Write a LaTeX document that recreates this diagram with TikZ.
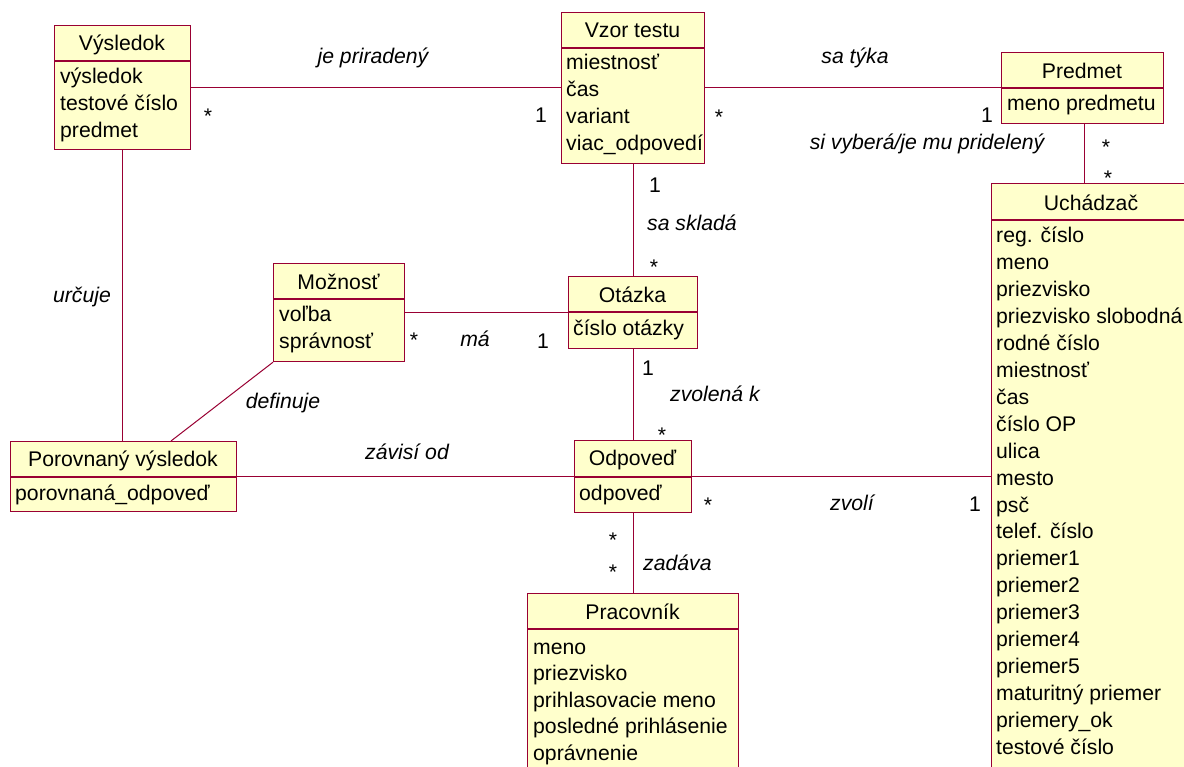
\documentclass[tikz,border=0pt]{standalone}
\usepackage{fontspec}
\setmainfont{Liberation Sans}
\definecolor{umlline}{RGB}{153,0,51}
\definecolor{umlfill}{RGB}{255,255,204}
\begin{document}
\begin{tikzpicture}[x=1pt,y=-1pt,
  cls/.style={draw=umlline, fill=umlfill, line width=1.2pt, inner sep=0pt, anchor=north west},
  sepline/.style={draw=umlline, line width=1.2pt},
  txt/.style={inner sep=0pt, font=\fontsize{21.2}{26}\selectfont},
  ttl/.style={txt, anchor=base},
  att/.style={txt, anchor=base west},
  role/.style={inner sep=0pt, anchor=base, font=\fontsize{21.2}{26}\selectfont\itshape},
  mult/.style={txt, anchor=base},
  assoc/.style={draw=umlline, line width=1pt}]
\useasboundingbox (0,0) rectangle (1184,767);
\fill[white] (0,0) rectangle (1184,767);
\clip (0,0) rectangle (1184,767);

% ---------- classes ----------
% Výsledok
\node[cls, minimum width=136pt, minimum height=124pt] (vysledok) at (54,25) {};
\draw[sepline] (54,61) -- (190,61);
\node[ttl] (vysledok-t) at (122,50.5) {Výsledok};
\foreach \t [count=\i from 0] in {výsledok, testové číslo, predmet}
  \node[att] (vysledok-a\i) at (60,84+26.6*\i) {\t};

% Vzor testu
\node[cls, minimum width=143pt, minimum height=151pt] (vzor) at (561,12) {};
\draw[sepline] (561,48) -- (704,48);
\node[ttl] (vzor-t) at (632.5,37.5) {Vzor testu};
\foreach \t [count=\i from 0] in {miestnosť, čas, variant, viac\_odpovedí}
  \node[att] (vzor-a\i) at (566,70+26.7*\i) {\t};

% Predmet
\node[cls, minimum width=162pt, minimum height=71pt] (predmet) at (1001,52) {};
\draw[sepline] (1001,88) -- (1163,88);
\node[ttl] (predmet-t) at (1082,78.5) {Predmet};
\node[att] (predmet-a0) at (1007,111) {meno predmetu};

% Uchádzač
\node[cls, minimum width=200pt, minimum height=620pt] (uchadzac) at (991,183) {};
\draw[sepline] (991,220) -- (1191,220);
\node[ttl] (uchadzac-t) at (1091,210.5) {Uchádzač};
\foreach \t [count=\i from 0] in {reg. číslo, meno, priezvisko, priezvisko slobodná,
    rodné číslo, miestnosť, čas, číslo OP, ulica, mesto, psč, telef. číslo,
    priemer1, priemer2, priemer3, priemer4, priemer5, maturitný priemer,
    priemery\_ok, testové číslo}
  \node[att] (uchadzac-a\i) at (996,243+26.9*\i) {\t};

% Možnosť
\node[cls, minimum width=131pt, minimum height=98pt] (moznost) at (273,263) {};
\draw[sepline] (273,299) -- (404,299);
\node[ttl] (moznost-t) at (338.5,289.5) {Možnosť};
\node[att] (moznost-a0) at (279,322) {voľba};
\node[att] (moznost-a1) at (279,349) {správnosť};

% Otázka
\node[cls, minimum width=129pt, minimum height=72pt] (otazka) at (568,276) {};
\draw[sepline] (568,312) -- (697,312);
\node[ttl] (otazka-t) at (632.5,302.5) {Otázka};
\node[att] (otazka-a0) at (573,336) {číslo otázky};

% Odpoveď
\node[cls, minimum width=117pt, minimum height=72pt] (odpoved) at (574,440) {};
\draw[sepline] (574,477) -- (691,477);
\node[ttl] (odpoved-t) at (632.5,465.5) {Odpoveď};
\node[att] (odpoved-a0) at (579,500) {odpoveď};

% Porovnaný výsledok
\node[cls, minimum width=226pt, minimum height=70pt] (porovnany) at (10,441) {};
\draw[sepline] (10,477) -- (236,477);
\node[ttl] (porovnany-t) at (123,466.5) {Porovnaný výsledok};
\node[att] (porovnany-a0) at (15,500) {porovnaná\_odpoveď};

% Pracovník
\node[cls, minimum width=211pt, minimum height=200pt] (pracovnik) at (527,593) {};
\draw[sepline] (527,629) -- (738,629);
\node[ttl] (pracovnik-t) at (632.5,619.5) {Pracovník};
\foreach \t [count=\i from 0] in {meno, priezvisko, prihlasovacie meno,
    posledné prihlásenie, oprávnenie}
  \node[att] (pracovnik-a\i) at (533,654+26.6*\i) {\t};

% ---------- associations ----------
\draw[assoc] (vysledok.east |- 0,88) -- (vzor.west |- 0,88);
\draw[assoc] (vzor.east |- 0,88) -- (predmet.west |- 0,88);
\draw[assoc] (predmet.south -| 1084,0) -- (uchadzac.north -| 1084,0);
\draw[assoc] (vzor.south) -- (otazka.north);
\draw[assoc] (otazka.south) -- (odpoved.north);
\draw[assoc] (odpoved.south) -- (pracovnik.north);
\draw[assoc] (moznost.east |- otazka.west) -- (otazka.west);
\draw[assoc] (vysledok.south) -- (porovnany.north -| vysledok.south);
\draw[assoc] (moznost.south west) -- (porovnany.north -| 171,0);
\draw[assoc] (porovnany.east) -- (odpoved.west);
\draw[assoc] (odpoved.east) -- (uchadzac.west |- odpoved.east);

% ---------- role names and multiplicities ----------
\node[role] (r-prir) at (373,64) {je priradený};
\node[mult] (m-vys) at (208,124) {*};
\node[mult] (m-vzor1) at (541,123) {1};

\node[role] (r-tyka) at (855,64) {sa týka};
\node[mult] (m-vzor2) at (719,125) {*};
\node[mult] (m-pred1) at (987,122.5) {1};

\node[role] (r-vybera) at (927,150) {si vyberá/je mu pridelený};
\node[mult] (m-pred2) at (1106,155) {*};
\node[mult] (m-uch1) at (1108,186) {*};

\node[mult] (m-vzor3) at (655,192.5) {1};
\node[role, anchor=base west] (r-sklada) at (647,231) {sa skladá};
\node[mult] (m-ot1) at (654,275) {*};

\node[role] (r-urcuje) at (82,303) {určuje};

\node[mult] (m-moz) at (414,348) {*};
\node[role] (r-ma) at (475,347) {má};
\node[mult] (m-ot2) at (543,349) {1};

\node[mult] (m-ot3) at (648,376) {1};
\node[role, anchor=base west] (r-zvolena) at (670,402) {zvolená k};
\node[mult] (m-odp1) at (662,442) {*};

\node[role] (r-definuje) at (283,408) {definuje};
\node[role] (r-zavisi) at (407,459) {závisí od};

\node[mult] (m-odp2) at (708,512) {*};
\node[role] (r-zvoli) at (852,510) {zvolí};
\node[mult] (m-uch2) at (975,511) {1};

\node[mult] (m-odp3) at (613,547) {*};
\node[mult] (m-prac) at (613,579) {*};
\node[role, anchor=base west] (r-zadava) at (643,570) {zadáva};
\end{tikzpicture}
\end{document}
